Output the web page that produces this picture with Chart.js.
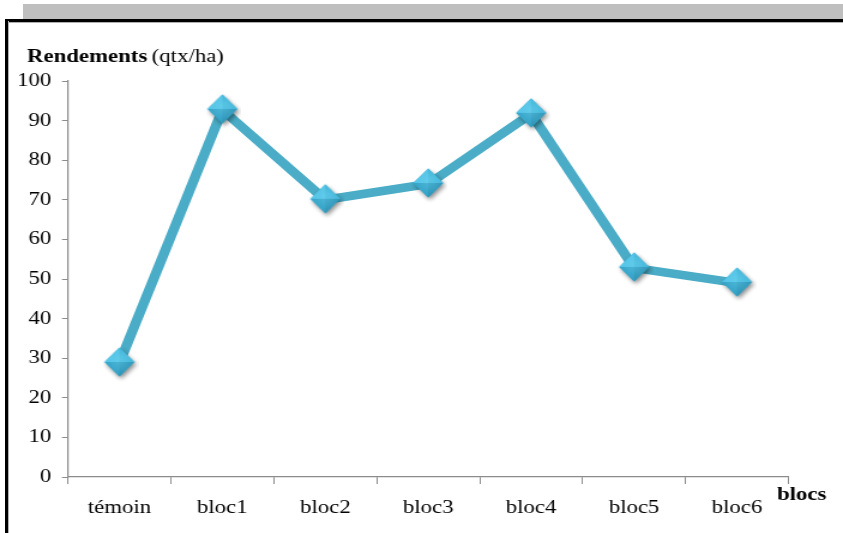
<!DOCTYPE html>
<html>
<head>
<meta charset="utf-8">
<script src="https://cdn.jsdelivr.net/npm/chart.js@4/dist/chart.umd.min.js"></script>
<style>
  html, body { margin: 0; padding: 0; background: #fff; }
  #wrap { position: relative; width: 843px; height: 533px; overflow: hidden; }
  #greybar { position: absolute; left: 23px; top: 4px; width: 820px; height: 15px; background: #bfbfbf; }
  #frameTop { position: absolute; left: 5px; top: 19px; width: 838px; height: 2.5px; background: #000; }
  #frameTop2 { position: absolute; left: 7px; top: 21.5px; width: 836px; height: 1px; background: #b0b0b0; }
  #frameLeft { position: absolute; left: 5px; top: 19px; width: 2.5px; height: 514px; background: #000; }
  #frameLeft2 { position: absolute; left: 7.5px; top: 21px; width: 1px; height: 512px; background: #b0b0b0; }
  #chart { position: absolute; left: 0; top: 0; }
</style>
</head>
<body>
<div id="wrap">
  <div id="greybar"></div>
  <canvas id="chart" width="703" height="533" style="width:843px;height:533px"></canvas>
  <div id="frameTop"></div>
  <div id="frameTop2"></div>
  <div id="frameLeft"></div>
  <div id="frameLeft2"></div>
</div>
<script>
const categories = ["témoin", "bloc1", "bloc2", "bloc3", "bloc4", "bloc5", "bloc6"];
const rendements = [28.8, 92.7, 70, 74, 91.7, 52.8, 49];
const yTicks = [0, 10, 20, 30, 40, 50, 60, 70, 80, 90, 100];

const lineColor = "#4aacc6";
const serif = "'Liberation Serif', 'Times New Roman', serif";

// diamond marker with shaded facets (canvas is stretched 1.2x horizontally)
function makeDiamond() {
  const c = document.createElement("canvas");
  c.width = 32; c.height = 38;
  const g = c.getContext("2d");
  const cx = 16, cy = 18, hw = 12.5, hh = 14.5;
  g.save();
  g.shadowColor = "rgba(0,0,0,0.45)";
  g.shadowBlur = 4;
  g.shadowOffsetX = 1.5;
  g.shadowOffsetY = 2.5;
  g.beginPath();
  g.moveTo(cx, cy - hh); g.lineTo(cx + hw, cy); g.lineTo(cx, cy + hh); g.lineTo(cx - hw, cy);
  g.closePath();
  g.fillStyle = "#38a9cc";
  g.fill();
  g.restore();
  const facets = [
    [[cx, cy - hh], [cx - hw, cy], "#52c3e6"],
    [[cx, cy - hh], [cx + hw, cy], "#42b6da"],
    [[cx - hw, cy], [cx, cy + hh], "#2f9ec3"],
    [[cx + hw, cy], [cx, cy + hh], "#2a92b6"]
  ];
  facets.forEach(function (f) {
    g.beginPath();
    g.moveTo(cx, cy);
    g.lineTo(f[0][0], f[0][1]);
    g.lineTo(f[1][0], f[1][1]);
    g.closePath();
    g.fillStyle = f[2];
    g.fill();
  });
  const grad = g.createRadialGradient(cx, cy - 3, 1, cx, cy, hh);
  grad.addColorStop(0, "rgba(110,210,238,0.5)");
  grad.addColorStop(1, "rgba(110,210,238,0)");
  g.beginPath();
  g.moveTo(cx, cy - hh); g.lineTo(cx + hw, cy); g.lineTo(cx, cy + hh); g.lineTo(cx - hw, cy);
  g.closePath();
  g.fillStyle = grad;
  g.fill();
  return c;
}
const diamond = makeDiamond();

const extraText = {
  id: "extraText",
  afterDraw(chart) {
    const ctx = chart.ctx;
    ctx.save();
    ctx.fillStyle = "#000";
    ctx.textBaseline = "middle";
    ctx.textAlign = "left";
    ctx.font = "bold 19px " + serif;
    ctx.fillText("Rendements", 22.5, 57);
    const w = ctx.measureText("Rendements ").width;
    ctx.font = "19px " + serif;
    ctx.fillText("(qtx/ha)", 22.5 + w - 1, 57);
    ctx.font = "bold 19px " + serif;
    ctx.fillText("blocs", 648, 495);
    ctx.restore();
  }
};

const ctx = document.getElementById("chart").getContext("2d");
new Chart(ctx, {
  type: "line",
  data: {
    labels: categories,
    datasets: [{
      label: "Rendements",
      data: rendements,
      borderColor: lineColor,
      borderWidth: 8.5,
      pointStyle: diamond,
      pointRadius: 13,
      pointHoverRadius: 13,
      tension: 0,
      fill: false
    }]
  },
  options: {
    responsive: false,
    animation: false,
    devicePixelRatio: 1,
    layout: { padding: { left: 0, top: 81, right: 45.5, bottom: 0 } },
    plugins: { legend: { display: false }, tooltip: { enabled: false } },
    scales: {
      x: {
        offset: true,
        afterFit: function (s) { s.height = 56; },
        grid: { offset: true, drawOnChartArea: false, color: "#8c8c8c", tickLength: 7, lineWidth: 1 },
        border: { color: "#8c8c8c", width: 1.2 },
        ticks: { color: "#000", font: { family: serif, size: 19 }, padding: 13, maxRotation: 0 }
      },
      y: {
        min: 0,
        max: 100,
        afterFit: function (s) { s.width = 56.7; },
        afterBuildTicks: function (s) { s.ticks = yTicks.map(function (v) { return { value: v }; }); },
        grid: { drawOnChartArea: false, color: "#8c8c8c", tickLength: 5, lineWidth: 1 },
        border: { color: "#8c8c8c", width: 1.2 },
        ticks: { color: "#000", font: { family: serif, size: 19 }, padding: 9 }
      }
    }
  },
  plugins: [extraText]
});
</script>
</body>
</html>
